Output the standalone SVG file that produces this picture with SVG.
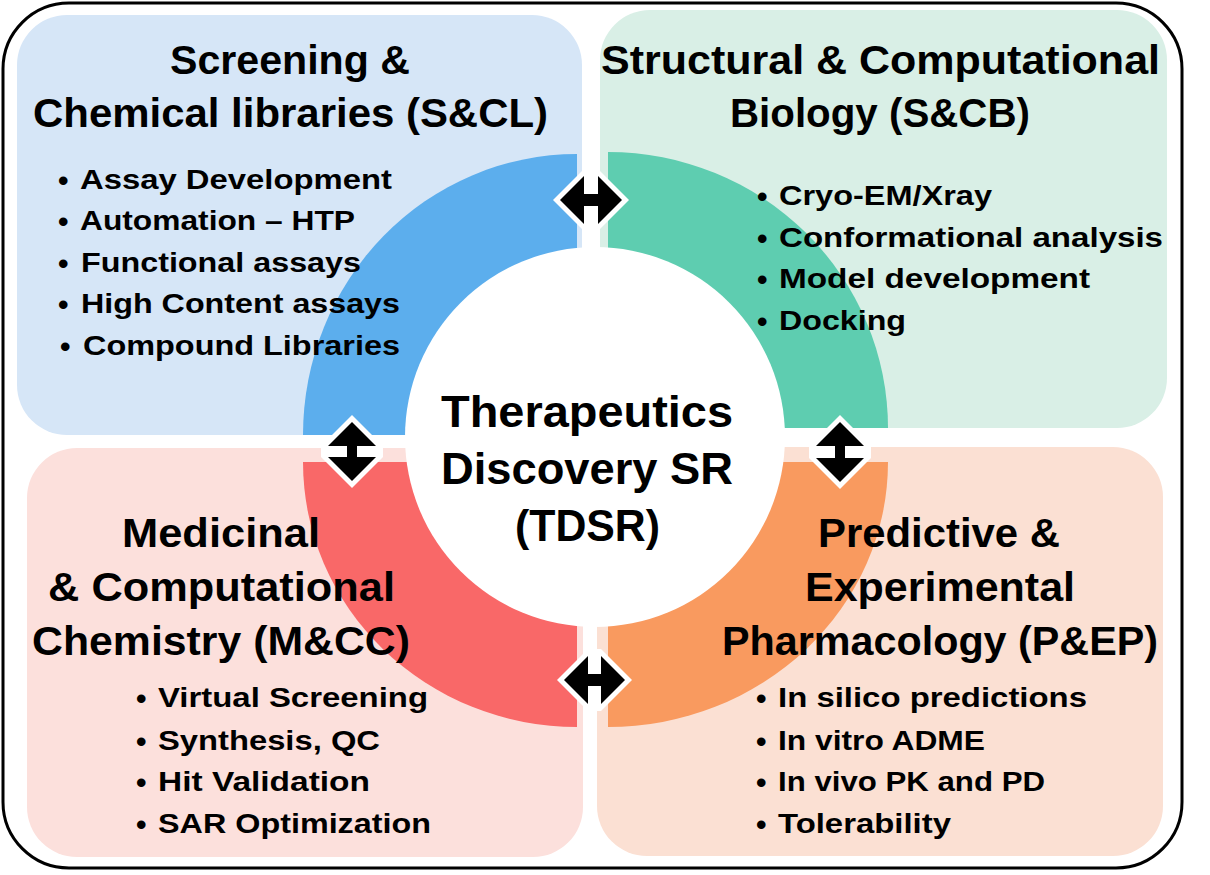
<svg xmlns="http://www.w3.org/2000/svg" width="1210" height="875" viewBox="0 0 1210 875">
<style>
text { font-family: "Liberation Sans", Arial, sans-serif; font-weight: bold; fill: #000; }
.t { font-size: 40px; }
.c { font-size: 45px; }
.b { font-size: 27px; }
.d { font-size: 30px; }
.arrowBg { fill: #ffffff; }
.arrow { fill: #000000; }
</style>
<rect x="0" y="0" width="1210" height="875" fill="#ffffff"/>
<rect id="frame" x="3" y="3" width="1179" height="865" rx="66" ry="66" fill="#ffffff" stroke="#000" stroke-width="3"/>

<g id="box-scl"><rect x="17" y="15" width="565" height="420" rx="50" fill="#d6e6f7"/></g>
<g id="box-scb"><rect x="600" y="10" width="567" height="418" rx="50" fill="#d9efe6"/></g>
<g id="box-mcc"><rect x="27" y="448" width="556" height="409" rx="50" fill="#fce0dc"/></g>
<g id="box-pep"><rect x="597" y="447" width="566" height="409" rx="50" fill="#fbe0d3"/></g>

<g id="ring">
<path d="M577 435 L303 435 A274 281 0 0 1 577 154 Z" fill="#5caeed"/>
<path d="M608 428 L608 152 A280 276 0 0 1 888 428 Z" fill="#5ecdb0"/>
<path d="M577 462 L303 462 A274 265 0 0 0 577 727 Z" fill="#f96868"/>
<path d="M608 462 L888 462 A280 265 0 0 1 608 727 Z" fill="#f99a5f"/>
<circle cx="595" cy="437" r="190" fill="#ffffff"/>
</g>

<g id="connectors">
<g id="arrow-top">
<polygon class="arrowBg" points="553,200 584,169 598,169 629,200 598,231 584,231"/>
<polygon class="arrow" points="560,200 584,176 584,224"/>
<polygon class="arrow" points="622,200 598,176 598,224"/>
<rect class="arrow" x="583" y="194" width="16" height="12"/>
</g>
<g id="arrow-left">
<polygon class="arrowBg" points="352,415 383,446 383,457 352,488 321,457 321,446"/>
<polygon class="arrow" points="352,422 328,446 376,446"/>
<polygon class="arrow" points="352,481 328,457 376,457"/>
<rect class="arrow" x="347" y="445" width="10" height="13"/>
</g>
<g id="arrow-right">
<polygon class="arrowBg" points="840,415 871,446 871,458 840,489 809,458 809,446"/>
<polygon class="arrow" points="840,422 816,446 864,446"/>
<polygon class="arrow" points="840,482 816,458 864,458"/>
<rect class="arrow" x="835" y="445" width="10" height="14"/>
</g>
<g id="arrow-bottom">
<polygon class="arrowBg" points="557,680 588,649 601,649 632,680 601,711 588,711"/>
<polygon class="arrow" points="564,680 588,656 588,704"/>
<polygon class="arrow" points="625,680 601,656 601,704"/>
<rect class="arrow" x="587" y="674" width="15" height="12"/>
</g>
</g>

<g id="node-scl">
<text class="t" x="170" y="74" textLength="240" lengthAdjust="spacingAndGlyphs">Screening &amp;</text>
<text class="t" x="33" y="127" textLength="515" lengthAdjust="spacingAndGlyphs">Chemical libraries (S&amp;CL)</text>
<text class="d" x="58" y="191">•</text><text class="b" x="80" y="189" textLength="312" lengthAdjust="spacingAndGlyphs">Assay Development</text>
<text class="d" x="58" y="232">•</text><text class="b" x="80" y="230" textLength="275" lengthAdjust="spacingAndGlyphs">Automation – HTP</text>
<text class="d" x="58" y="274">•</text><text class="b" x="81" y="272" textLength="280" lengthAdjust="spacingAndGlyphs">Functional assays</text>
<text class="d" x="58" y="315">•</text><text class="b" x="81" y="313" textLength="319" lengthAdjust="spacingAndGlyphs">High Content assays</text>
<text class="d" x="60" y="357">•</text><text class="b" x="83" y="355" textLength="317" lengthAdjust="spacingAndGlyphs">Compound Libraries</text>
</g>

<g id="node-scb">
<text class="t" x="601" y="74" textLength="559" lengthAdjust="spacingAndGlyphs">Structural &amp; Computational</text>
<text class="t" x="730" y="127" textLength="300" lengthAdjust="spacingAndGlyphs">Biology (S&amp;CB)</text>
<text class="d" x="757" y="207">•</text><text class="b" x="779" y="205" textLength="213" lengthAdjust="spacingAndGlyphs">Cryo-EM/Xray</text>
<text class="d" x="757" y="249">•</text><text class="b" x="779" y="247" textLength="384" lengthAdjust="spacingAndGlyphs">Conformational analysis</text>
<text class="d" x="757" y="290">•</text><text class="b" x="779" y="288" textLength="311" lengthAdjust="spacingAndGlyphs">Model development</text>
<text class="d" x="757" y="332">•</text><text class="b" x="779" y="330" textLength="127" lengthAdjust="spacingAndGlyphs">Docking</text>
</g>

<g id="node-tdsr">
<text class="c" x="441" y="427" textLength="292" lengthAdjust="spacingAndGlyphs">Therapeutics</text>
<text class="c" x="441" y="484" textLength="292" lengthAdjust="spacingAndGlyphs">Discovery SR</text>
<text class="c" x="515" y="541" textLength="145" lengthAdjust="spacingAndGlyphs">(TDSR)</text>
</g>

<g id="node-mcc">
<text class="t" x="122" y="547" textLength="198" lengthAdjust="spacingAndGlyphs">Medicinal</text>
<text class="t" x="48" y="601" textLength="347" lengthAdjust="spacingAndGlyphs">&amp; Computational</text>
<text class="t" x="32" y="655" textLength="378" lengthAdjust="spacingAndGlyphs">Chemistry (M&amp;CC)</text>
<text class="d" x="136" y="709">•</text><text class="b" x="158" y="707" textLength="270" lengthAdjust="spacingAndGlyphs">Virtual Screening</text>
<text class="d" x="136" y="752">•</text><text class="b" x="158" y="750" textLength="222" lengthAdjust="spacingAndGlyphs">Synthesis, QC</text>
<text class="d" x="136" y="793">•</text><text class="b" x="158" y="791" textLength="212" lengthAdjust="spacingAndGlyphs">Hit Validation</text>
<text class="d" x="136" y="835">•</text><text class="b" x="158" y="833" textLength="273" lengthAdjust="spacingAndGlyphs">SAR Optimization</text>
</g>

<g id="node-pep">
<text class="t" x="818" y="547" textLength="242" lengthAdjust="spacingAndGlyphs">Predictive &amp;</text>
<text class="t" x="805" y="601" textLength="270" lengthAdjust="spacingAndGlyphs">Experimental</text>
<text class="t" x="722" y="655" textLength="436" lengthAdjust="spacingAndGlyphs">Pharmacology (P&amp;EP)</text>
<text class="d" x="756" y="709">•</text><text class="b" x="778" y="707" textLength="309" lengthAdjust="spacingAndGlyphs">In silico predictions</text>
<text class="d" x="756" y="752">•</text><text class="b" x="778" y="750" textLength="207" lengthAdjust="spacingAndGlyphs">In vitro ADME</text>
<text class="d" x="756" y="793">•</text><text class="b" x="778" y="791" textLength="267" lengthAdjust="spacingAndGlyphs">In vivo PK and PD</text>
<text class="d" x="756" y="835">•</text><text class="b" x="778" y="833" textLength="173" lengthAdjust="spacingAndGlyphs">Tolerability</text>
</g>
</svg>
